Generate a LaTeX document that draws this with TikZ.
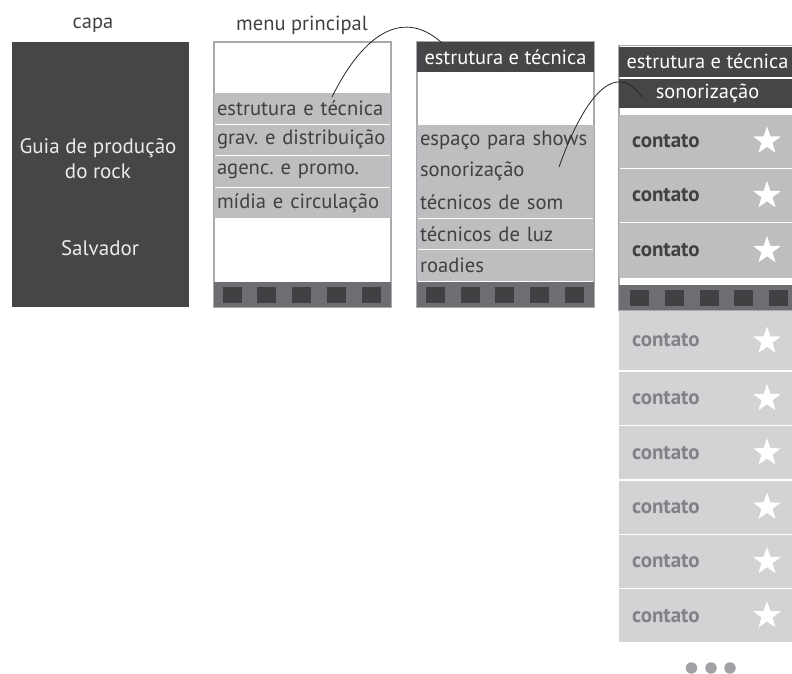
\documentclass[tikz,border=0pt]{standalone}
\usepackage{fontspec}
\setmainfont{PT Sans}
\usepackage{tikz}
\usetikzlibrary{shapes.geometric}
\frenchspacing

\definecolor{darkbg}{HTML}{464648}
\definecolor{framegray}{HTML}{A7A9AC}
\definecolor{itemgray}{HTML}{BCBEC0}
\definecolor{lightitem}{HTML}{D1D3D4}
\definecolor{bargray}{HTML}{6D6E71}
\definecolor{squaregray}{HTML}{414042}
\definecolor{textdark}{HTML}{414042}
\definecolor{textlight}{HTML}{808285}
\definecolor{dotgray}{HTML}{A0A2A5}

\begin{document}
\begin{tikzpicture}[x=1pt,y=-1pt,
    every node/.style={inner sep=0pt,outer sep=0pt},
    label/.style={font=\fontsize{20.5}{24}\selectfont,text=textdark},
    screen/.style={draw=framegray,line width=1.3pt,fill=white,anchor=north west,minimum width=177pt},
    item/.style={fill=itemgray,anchor=north west,minimum height=30.5pt,inner xsep=3pt,text width=171pt,align=left,
                 font=\fontsize{20.6}{24}\selectfont,text=textdark},
    header/.style={fill=darkbg,anchor=north west,minimum width=177pt,minimum height=30pt,
                   font=\fontsize{20.4}{24}\selectfont,text=white},
    bar/.style={fill=bargray,anchor=north west,minimum width=177pt,minimum height=25pt},
    sq/.style={fill=squaregray,anchor=north west,minimum width=19pt,minimum height=16pt},
    contact/.style={anchor=north west,minimum height=53pt,inner xsep=13pt,text width=151pt,align=left,
                    font=\fontsize{21}{24}\selectfont\bfseries},
    fav/.style={star,star points=5,star point ratio=2.5,fill=white,minimum size=29pt},
    link/.style={draw=black!85,line width=0.8pt}]

    \useasboundingbox (0,0) rectangle (792,673);
    \clip (0,0) rectangle (792,673);

    % capa
    \node[label]   (capaLabel) at (93,25)   {capa};
    \node[fill=darkbg,anchor=north west,minimum width=177pt,minimum height=265pt] (capa) at (12,42) {};
    \node[font=\fontsize{21}{25}\selectfont,text=white!92!black,align=center] (titulo) at (98,159) {Guia de produção\\do rock};
    \node[font=\fontsize{21}{25}\selectfont,text=white!92!black] (cidade) at (100,248) {Salvador};

    % menu principal
    \node[label]  (menuLabel) at (302,25)  {menu principal};
    \node[screen,minimum height=265pt] (menu) at (214,42) {};
    \node[item] (m1) at (214,93)    {estrutura e técnica};
    \node[item] (m2) at (214,124.5) {grav. e distribuição};
    \node[item] (m3) at (214,156)   {agenc. e promo.};
    \node[item] (m4) at (214,187.5) {mídia e circulação};
    \node[bar]  (mbar) at (214,282) {};
    \node[sq] (ms1) at (222.7,287) {};
    \node[sq] (ms2) at (257.4,287) {};
    \node[sq] (ms3) at (292.1,287) {};
    \node[sq] (ms4) at (326.8,287) {};
    \node[sq] (ms5) at (361.5,287) {};

    % estrutura e tecnica
    \node[screen,minimum height=265pt] (tec) at (417,42) {};
    \node[header] (th) at (417,42) {estrutura e técnica};
    \node[item] (t1) at (417,125)   {espaço para shows};
    \node[item] (t2) at (417,156.2) {sonorização};
    \node[item] (t3) at (417,187.4) {técnicos de som};
    \node[item] (t4) at (417,218.6) {técnicos de luz};
    \node[item,minimum height=31.5pt] (t5) at (417,249.8) {roadies};
    \node[bar]  (tbar) at (417,281.5) {};
    \node[sq] (ts1) at (425.7,287) {};
    \node[sq] (ts2) at (460.5,287) {};
    \node[sq] (ts3) at (495.3,287) {};
    \node[sq] (ts4) at (530.1,287) {};
    \node[sq] (ts5) at (564.9,287) {};

    % sonorizacao
    \node[screen,minimum height=264.5pt] (son) at (619,45.5) {};
    \node[header] (sh1) at (619,46.5) {estrutura e técnica};
    \node[header,minimum height=29.5pt] (sh2) at (619,78.5) {sonorização};
    \node[contact,fill=itemgray,text=textdark] (c1) at (619,115)   {contato};
    \node[contact,fill=itemgray,text=textdark] (c2) at (619,169)   {contato};
    \node[contact,fill=itemgray,text=textdark,minimum height=55pt] (c3) at (619,223) {contato};
    \node[bar] (sbar) at (619,285) {};
    \node[sq] (ss1) at (630,290) {};
    \node[sq] (ss2) at (664.8,290) {};
    \node[sq] (ss3) at (699.6,290) {};
    \node[sq] (ss4) at (734.4,290) {};
    \node[sq] (ss5) at (769.2,290) {};
    \node[contact,fill=lightitem,text=textlight,minimum height=59pt] (c4) at (619,311) {contato};
    \node[contact,fill=lightitem,text=textlight] (c5) at (619,372)   {contato};
    \node[contact,fill=lightitem,text=textlight] (c6) at (619,426.3) {contato};
    \node[contact,fill=lightitem,text=textlight] (c7) at (619,480.6) {contato};
    \node[contact,fill=lightitem,text=textlight] (c8) at (619,534.9) {contato};
    \node[contact,fill=lightitem,text=textlight] (c9) at (619,589.2) {contato};

    \node[fav] (f1) at (767,141) {};
    \node[fav] (f2) at (767,195.5) {};
    \node[fav] (f3) at (767,250.5) {};
    \node[fav] (f4) at (767,341) {};
    \node[fav] (f5) at (767,398.5) {};
    \node[fav] (f6) at (767,452.8) {};
    \node[fav] (f7) at (767,507.1) {};
    \node[fav] (f8) at (767,561.4) {};
    \node[fav] (f9) at (767,615.7) {};

    \node[circle,fill=dotgray,minimum size=11.5pt] (d1) at (691.5,668) {};
    \node[circle,fill=dotgray,minimum size=11.5pt] (d2) at (711,668)   {};
    \node[circle,fill=dotgray,minimum size=11.5pt] (d3) at (730,668)   {};

    % ligacoes
    \coordinate (e1a) at (332,97);
    \coordinate (e1b) at (442,43);
    \coordinate (e2a) at (559,167);
    \coordinate (e2b) at (642,97);
    \draw[link] (e1a) .. controls (360,40) and (400,5) .. (e1b);
    \draw[link] (e2a) .. controls (580,108) and (612,55) .. (e2b);
\end{tikzpicture}
\end{document}
